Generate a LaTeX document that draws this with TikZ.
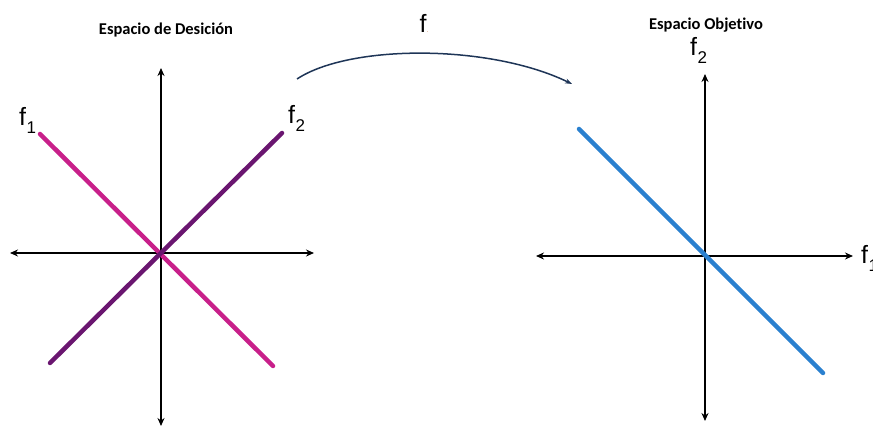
\documentclass[tikz,border=0pt]{standalone}
\usepackage{fontspec}
\setmainfont{Liberation Sans}
\newfontfamily\titlefont[Ligatures={NoCommon,NoRequired}]{Carlito}
\usetikzlibrary{arrows.meta}
\definecolor{pinkline}{HTML}{C8208A}
\definecolor{purpleline}{HTML}{6A1670}
\definecolor{blueline}{HTML}{2A80CF}
\definecolor{arcblue}{HTML}{1E3557}
\definecolor{dotorange}{HTML}{C8703A}
\newcommand{\fsub}[1]{f\kern0.02em\raisebox{-0.32em}{\fontsize{17}{17}\selectfont #1}}
\begin{document}
\begin{tikzpicture}[x=1pt,y=-1pt,
  axis/.style={line width=1.8pt,{Stealth[length=8pt,width=7pt]}-{Stealth[length=8pt,width=7pt]}},
  curve/.style={line width=4.5pt,line cap=round},
  title/.style={font=\titlefont\bfseries\fontsize{16.5}{16.5}\selectfont,inner sep=0pt},
  flabel/.style={font=\fontsize{25}{25}\selectfont,inner sep=0pt},
  arc/.style={line width=1.5pt,arcblue,-{Stealth[length=7pt,width=5pt]}}]
\useasboundingbox (0,0) rectangle (873,427);
% titles
\node[title] (t1) at (166,30) {Espacio de Desición};
\node[title] (t2) at (706,25) {Espacio Objetivo};
\node[flabel] (fmap) at (424,23) {f\textcolor{dotorange}{\fontsize{6}{6}\selectfont .}};
% left axes
\coordinate (lxl) at (10,253);
\coordinate (lxr) at (314,253);
\coordinate (lyt) at (161,68);
\coordinate (lyb) at (161,426);
\draw[axis] (lxl) -- (lxr);
\draw[axis] (lyb) -- (lyt);
% left lines
\coordinate (p1a) at (40,134);
\coordinate (p1b) at (273,366);
\coordinate (p2a) at (50,363);
\coordinate (p2b) at (282,133);
\draw[curve,pinkline] (p1a) -- (p1b);
\draw[curve,purpleline] (p2a) -- (p2b);
\node[flabel,anchor=south west] (lf1) at (19,134) {\fsub{1}};
\node[flabel,anchor=south west] (lf2) at (288,132) {\fsub{2}};
% right axes
\coordinate (rxl) at (536,256);
\coordinate (rxr) at (853,256);
\coordinate (ryt) at (705,74);
\coordinate (ryb) at (705,421);
\draw[axis] (rxl) -- (rxr);
\draw[axis] (ryb) -- (ryt);
\coordinate (bla) at (579,129);
\coordinate (blb) at (823,373);
\draw[curve,blueline] (bla) -- (blb);
\node[flabel,anchor=south west] (rf2) at (690,64) {\fsub{2}};
\node[flabel,anchor=west] (rf1) at (861,258) {\fsub{1}};
% mapping arc
\coordinate (a1) at (297,79);
\coordinate (a2) at (572,84);
\draw[arc] (a1) .. controls (350,44) and (490,44) .. (a2);
\end{tikzpicture}
\end{document}
